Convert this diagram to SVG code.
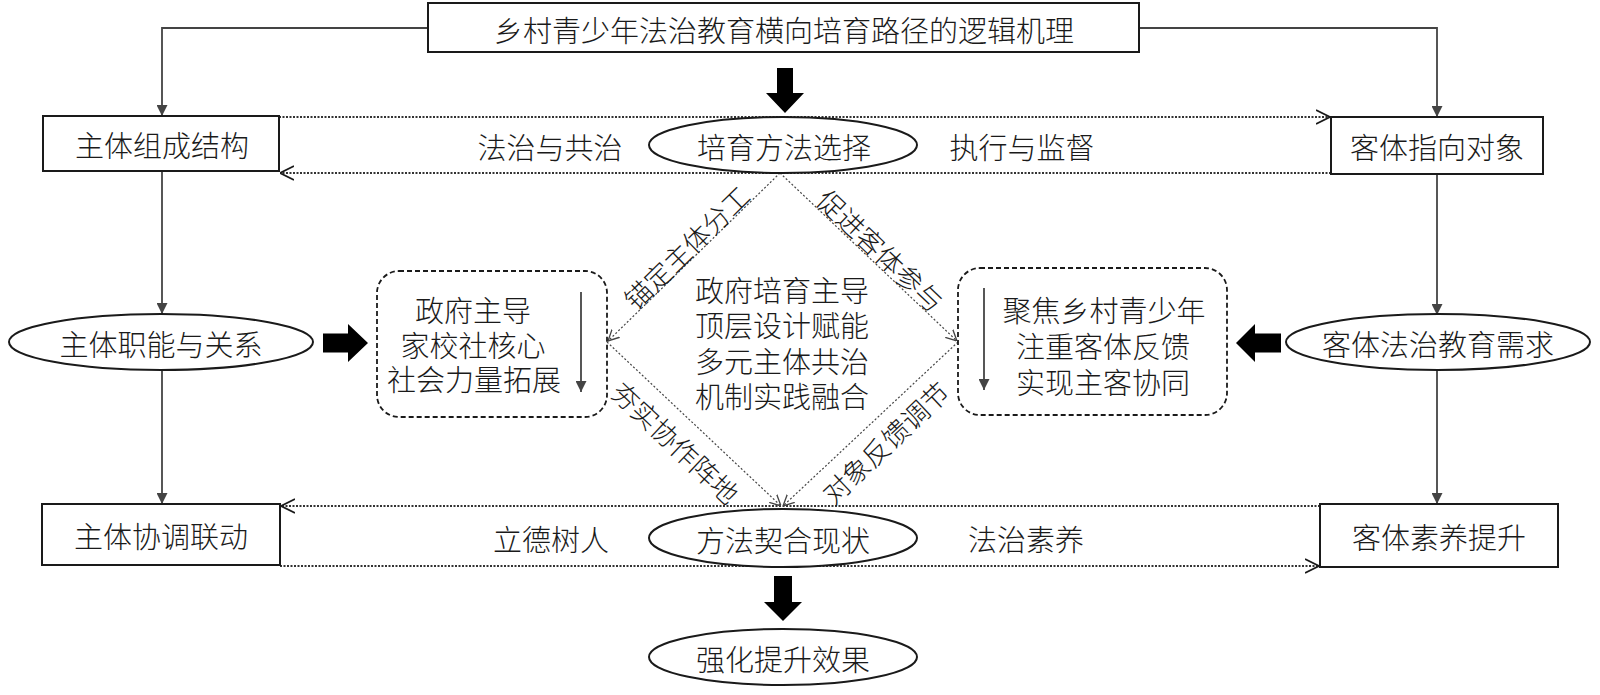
<svg xmlns="http://www.w3.org/2000/svg" width="1600" height="695" viewBox="0 0 1600 695" xml:lang="zh-CN">
<style>
text{font-family:"Noto Sans CJK SC","Liberation Sans",sans-serif;fill:#1a1a1a;text-anchor:middle;dominant-baseline:central;font-size:29px;font-weight:300}
.ml{font-family:"Liberation Sans","Noto Sans CJK SC",sans-serif}
.lbl{font-size:27px}
.box{fill:#fff;stroke:#1a1a1a;stroke-width:2}
.ell{fill:#fff;stroke:#1a1a1a;stroke-width:2}
.dash{fill:none;stroke:#1a1a1a;stroke-width:1.8;stroke-dasharray:5 3}
.conn{fill:none;stroke:#444;stroke-width:1.8}
.dot{fill:none;stroke:#333;stroke-width:2;stroke-dasharray:2 1.5}
.ddot{fill:none;stroke:#444;stroke-width:1.2;stroke-dasharray:2 2}
.blk{fill:#000}
</style>
<defs>
<marker id="tri" viewBox="0 0 10 10" refX="10" refY="5" markerWidth="15" markerHeight="11" markerUnits="userSpaceOnUse" orient="auto"><path d="M0,0 L10,5 L0,10 z" fill="#444"/></marker>
<marker id="vee" viewBox="0 0 10 10" refX="10" refY="5" markerWidth="14" markerHeight="18" markerUnits="userSpaceOnUse" orient="auto"><path d="M0,0 L10,5 L0,10" fill="none" stroke="#1a1a1a" stroke-width="1.3"/></marker>
<marker id="vees" viewBox="0 0 10 10" refX="10" refY="5" markerWidth="11" markerHeight="14" markerUnits="userSpaceOnUse" orient="auto"><path d="M0,0 L10,5 L0,10" fill="none" stroke="#444" stroke-width="1.2"/></marker>
</defs>

<g id="connectors">
<polyline class="conn" points="428,28 162,28 162,116" marker-end="url(#tri)"/>
<polyline class="conn" points="1139,28 1437,28 1437,117" marker-end="url(#tri)"/>
<line class="conn" x1="162" y1="171" x2="162" y2="314" marker-end="url(#tri)"/>
<line class="conn" x1="162" y1="369" x2="162" y2="504" marker-end="url(#tri)"/>
<line class="conn" x1="1437" y1="174" x2="1437" y2="315" marker-end="url(#tri)"/>
<line class="conn" x1="1437" y1="370" x2="1437" y2="504" marker-end="url(#tri)"/>
<line class="dot" x1="279" y1="117" x2="1330" y2="117" marker-end="url(#vee)"/>
<line class="dot" x1="1331" y1="173" x2="280" y2="173" marker-end="url(#vee)"/>
<line class="dot" x1="1320" y1="506" x2="281" y2="506" marker-end="url(#vee)"/>
<line class="dot" x1="280" y1="566" x2="1319" y2="566" marker-end="url(#vee)"/>
<line class="ddot" x1="780" y1="173" x2="608" y2="341" marker-end="url(#vees)"/>
<line class="ddot" x1="780" y1="173" x2="957" y2="341" marker-end="url(#vees)"/>
<line class="ddot" x1="607" y1="342" x2="781" y2="506" marker-end="url(#vees)"/>
<line class="ddot" x1="958" y1="342" x2="783" y2="506" marker-end="url(#vees)"/>
<line class="conn" x1="581" y1="292" x2="581" y2="392" marker-end="url(#tri)"/>
<line class="conn" x1="984" y1="288" x2="984" y2="390" marker-end="url(#tri)"/>
<polygon class="blk" points="777,68 793,68 793,93 804,93 785,113 766,93 777,93"/>
<polygon class="blk" points="774,576 792,576 792,602 802,602 783,621 764,602 774,602"/>
<polygon class="blk" points="323,333.5 348,333.5 348,324 368,343 348,362 348,352.5 323,352.5"/>
<polygon class="blk" points="1281,333.5 1255,333.5 1255,324 1236,343 1255,362 1255,352.5 1281,352.5"/>
<text class="lbl" transform="translate(686,247) rotate(-44.3)">锚定主体分工</text>
<text class="lbl" transform="translate(881,250) rotate(43.6)">促进客体参与</text>
<text class="lbl" transform="translate(676,442) rotate(43.3)">夯实协作阵地</text>
<text class="lbl" transform="translate(885,442) rotate(-43.3)">对象反馈调节</text>
<text x="550" y="146">法治与共治</text>
<text x="1022" y="146">执行与监督</text>
<text x="551" y="538">立德树人</text>
<text x="1026" y="538">法治素养</text>
</g>

<g id="title"><rect class="box" x="428" y="3" width="711" height="49"/><text x="784" y="29">乡村青少年法治教育横向培育路径的逻辑机理</text></g>
<g id="subject-structure"><rect class="box" x="43" y="116" width="236" height="55"/><text x="162" y="144">主体组成结构</text></g>
<g id="object-target"><rect class="box" x="1331" y="117" width="212" height="57"/><text x="1437" y="146">客体指向对象</text></g>
<g id="method-select"><ellipse class="ell" cx="783" cy="145" rx="134" ry="28"/><text x="784" y="146">培育方法选择</text></g>
<g id="subject-function"><ellipse class="ell" cx="161" cy="342" rx="152" ry="28"/><text x="161" y="343">主体职能与关系</text></g>
<g id="object-demand"><ellipse class="ell" cx="1438" cy="342" rx="152" ry="28"/><text x="1438" y="343">客体法治教育需求</text></g>
<g id="left-panel"><rect class="dash" x="377" y="271" width="230" height="146" rx="22"/><text class="ml"><tspan x="473" y="312">政府主导</tspan><tspan x="473" y="347">家校社核心</tspan><tspan x="474" y="381">社会力量拓展</tspan></text></g>
<g id="right-panel"><rect class="dash" x="958" y="268" width="269" height="147" rx="22"/><text class="ml"><tspan x="1104" y="312">聚焦乡村青少年</tspan><tspan x="1103" y="348">注重客体反馈</tspan><tspan x="1103" y="384">实现主客协同</tspan></text></g>
<g id="center-text"><text class="ml"><tspan x="782" y="292">政府培育主导</tspan><tspan x="782" y="327">顶层设计赋能</tspan><tspan x="782" y="363">多元主体共治</tspan><tspan x="782" y="398">机制实践融合</tspan></text></g>
<g id="method-fit"><ellipse class="ell" cx="783" cy="538" rx="134" ry="29"/><text x="783" y="539">方法契合现状</text></g>
<g id="subject-coord"><rect class="box" x="42" y="504" width="238" height="61"/><text x="161" y="535">主体协调联动</text></g>
<g id="object-quality"><rect class="box" x="1320" y="504" width="238" height="63"/><text x="1439" y="536">客体素养提升</text></g>
<g id="effect"><ellipse class="ell" cx="783" cy="657" rx="134" ry="28"/><text x="783" y="658">强化提升效果</text></g>
</svg>
